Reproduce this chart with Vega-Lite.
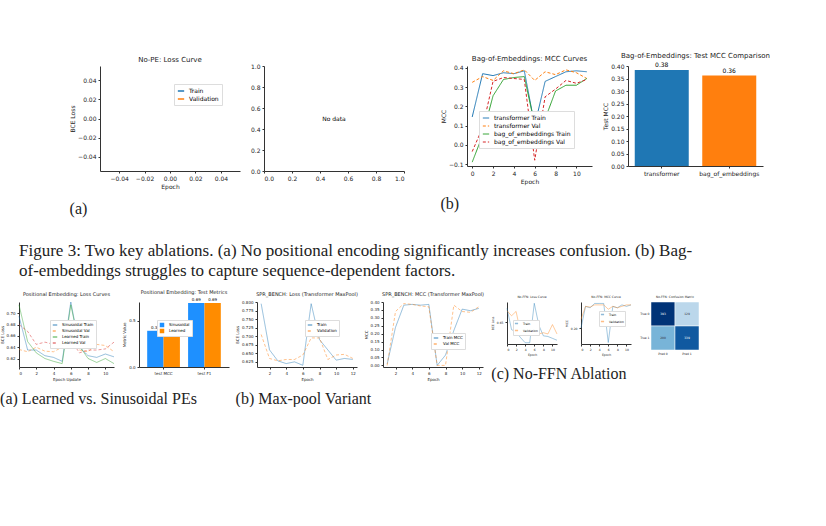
{
"$schema": "https://vega.github.io/schema/vega-lite/v6.json",
"background": "white",
"padding": {"left": 0, "top": 52, "right": 0, "bottom": 0},
"resolve": {"scale": {"color": "independent", "strokeDash": "independent"}, "legend": {"color": "independent", "strokeDash": "independent"}},
"config": {
  "view": {"stroke": null},
  "font": "DejaVu Sans",
  "axis": {"grid": false, "domainColor": "#333", "tickColor": "#333", "labelFontSize": 6, "titleFontSize": 6, "titleFontWeight": "normal", "tickSize": 2, "labelColor": "#222", "titleColor": "#222", "titlePadding": 2},
  "title": {"fontSize": 7, "fontWeight": "normal", "color": "#222", "offset": 3},
  "legend": {"labelFontSize": 6, "symbolSize": 40, "padding": 3, "fillColor": "white", "strokeColor": "#ddd", "title": null, "rowPadding": 1},
  "concat": {"spacing": 10}
},
"datasets": {
  "mcc": [
    {"e":0,"s":"transformer Train","v":0.145},{"e":1,"s":"transformer Train","v":0.37},{"e":2,"s":"transformer Train","v":0.36},{"e":3,"s":"transformer Train","v":0.375},{"e":4,"s":"transformer Train","v":0.37},{"e":5,"s":"transformer Train","v":0.385},{"e":6,"s":"transformer Train","v":0.1},{"e":7,"s":"transformer Train","v":0.33},{"e":8,"s":"transformer Train","v":0.355},{"e":9,"s":"transformer Train","v":0.38},{"e":10,"s":"transformer Train","v":0.385},{"e":11,"s":"transformer Train","v":0.38},
    {"e":0,"s":"transformer Val","v":0.325},{"e":1,"s":"transformer Val","v":0.355},{"e":2,"s":"transformer Val","v":0.335},{"e":3,"s":"transformer Val","v":0.385},{"e":4,"s":"transformer Val","v":0.37},{"e":5,"s":"transformer Val","v":0.39},{"e":6,"s":"transformer Val","v":0.335},{"e":7,"s":"transformer Val","v":0.38},{"e":8,"s":"transformer Val","v":0.365},{"e":9,"s":"transformer Val","v":0.39},{"e":10,"s":"transformer Val","v":0.375},{"e":11,"s":"transformer Val","v":0.345},
    {"e":0,"s":"bag_of_embeddings Train","v":-0.09},{"e":1,"s":"bag_of_embeddings Train","v":0.05},{"e":2,"s":"bag_of_embeddings Train","v":0.255},{"e":3,"s":"bag_of_embeddings Train","v":0.34},{"e":4,"s":"bag_of_embeddings Train","v":0.35},{"e":5,"s":"bag_of_embeddings Train","v":0.355},{"e":6,"s":"bag_of_embeddings Train","v":0.105},{"e":7,"s":"bag_of_embeddings Train","v":0.135},{"e":8,"s":"bag_of_embeddings Train","v":0.28},{"e":9,"s":"bag_of_embeddings Train","v":0.31},{"e":10,"s":"bag_of_embeddings Train","v":0.31},{"e":11,"s":"bag_of_embeddings Train","v":0.345},
    {"e":0,"s":"bag_of_embeddings Val","v":-0.035},{"e":1,"s":"bag_of_embeddings Val","v":0.09},{"e":2,"s":"bag_of_embeddings Val","v":0.33},{"e":3,"s":"bag_of_embeddings Val","v":0.35},{"e":4,"s":"bag_of_embeddings Val","v":0.345},{"e":5,"s":"bag_of_embeddings Val","v":0.34},{"e":6,"s":"bag_of_embeddings Val","v":-0.08},{"e":7,"s":"bag_of_embeddings Val","v":0.25},{"e":8,"s":"bag_of_embeddings Val","v":0.29},{"e":9,"s":"bag_of_embeddings Val","v":0.335},{"e":10,"s":"bag_of_embeddings Val","v":0.32},{"e":11,"s":"bag_of_embeddings Val","v":0.34}
  ],
  "mccbar": [{"m":"transformer","v":0.384,"t":"0.38"},{"m":"bag_of_embeddings","v":0.362,"t":"0.36"}],
  "peloss": [
    {"e":0,"s":"Sinusoidal Train","v":0.695},{"e":1,"s":"Sinusoidal Train","v":0.635},{"e":2,"s":"Sinusoidal Train","v":0.635},{"e":3,"s":"Sinusoidal Train","v":0.625},{"e":4,"s":"Sinusoidal Train","v":0.622},{"e":5,"s":"Sinusoidal Train","v":0.615},{"e":6,"s":"Sinusoidal Train","v":0.72},{"e":7,"s":"Sinusoidal Train","v":0.64},{"e":8,"s":"Sinusoidal Train","v":0.625},{"e":9,"s":"Sinusoidal Train","v":0.622},{"e":10,"s":"Sinusoidal Train","v":0.628},{"e":11,"s":"Sinusoidal Train","v":0.623},
    {"e":0,"s":"Sinusoidal Val","v":0.636},{"e":1,"s":"Sinusoidal Val","v":0.632},{"e":2,"s":"Sinusoidal Val","v":0.64},{"e":3,"s":"Sinusoidal Val","v":0.633},{"e":4,"s":"Sinusoidal Val","v":0.632},{"e":5,"s":"Sinusoidal Val","v":0.64},{"e":6,"s":"Sinusoidal Val","v":0.668},{"e":7,"s":"Sinusoidal Val","v":0.635},{"e":8,"s":"Sinusoidal Val","v":0.632},{"e":9,"s":"Sinusoidal Val","v":0.645},{"e":10,"s":"Sinusoidal Val","v":0.643},{"e":11,"s":"Sinusoidal Val","v":0.632},
    {"e":0,"s":"Learned Train","v":0.715},{"e":1,"s":"Learned Train","v":0.65},{"e":2,"s":"Learned Train","v":0.63},{"e":3,"s":"Learned Train","v":0.62},{"e":4,"s":"Learned Train","v":0.615},{"e":5,"s":"Learned Train","v":0.611},{"e":6,"s":"Learned Train","v":0.715},{"e":7,"s":"Learned Train","v":0.642},{"e":8,"s":"Learned Train","v":0.62},{"e":9,"s":"Learned Train","v":0.613},{"e":10,"s":"Learned Train","v":0.62},{"e":11,"s":"Learned Train","v":0.611},
    {"e":0,"s":"Learned Val","v":0.68},{"e":1,"s":"Learned Val","v":0.668},{"e":2,"s":"Learned Val","v":0.645},{"e":3,"s":"Learned Val","v":0.649},{"e":4,"s":"Learned Val","v":0.645},{"e":5,"s":"Learned Val","v":0.64},{"e":6,"s":"Learned Val","v":0.653},{"e":7,"s":"Learned Val","v":0.63},{"e":8,"s":"Learned Val","v":0.635},{"e":9,"s":"Learned Val","v":0.635},{"e":10,"s":"Learned Val","v":0.637},{"e":11,"s":"Learned Val","v":0.649}
  ],
  "pebar": [{"k":"test MCC","s":"Sinusoidal","v":0.39,"t":"0.39"},{"k":"test MCC","s":"Learned","v":0.38,"t":"0.38"},{"k":"test F1","s":"Sinusoidal","v":0.69,"t":"0.69"},{"k":"test F1","s":"Learned","v":0.69,"t":"0.69"}],
  "mploss": [
    {"e":1,"s":"Train","v":0.795},{"e":2,"s":"Train","v":0.66},{"e":3,"s":"Train","v":0.628},{"e":4,"s":"Train","v":0.62},{"e":5,"s":"Train","v":0.625},{"e":6,"s":"Train","v":0.615},{"e":7,"s":"Train","v":0.795},{"e":8,"s":"Train","v":0.69},{"e":9,"s":"Train","v":0.66},{"e":10,"s":"Train","v":0.63},{"e":11,"s":"Train","v":0.635},{"e":12,"s":"Train","v":0.632},
    {"e":1,"s":"Validation","v":0.705},{"e":2,"s":"Validation","v":0.635},{"e":3,"s":"Validation","v":0.628},{"e":4,"s":"Validation","v":0.632},{"e":5,"s":"Validation","v":0.632},{"e":6,"s":"Validation","v":0.645},{"e":7,"s":"Validation","v":0.695},{"e":8,"s":"Validation","v":0.695},{"e":9,"s":"Validation","v":0.632},{"e":10,"s":"Validation","v":0.645},{"e":11,"s":"Validation","v":0.647},{"e":12,"s":"Validation","v":0.635}
  ],
  "mpmcc": [
    {"e":1,"s":"Train MCC","v":0.01},{"e":2,"s":"Train MCC","v":0.24},{"e":3,"s":"Train MCC","v":0.38},{"e":4,"s":"Train MCC","v":0.385},{"e":5,"s":"Train MCC","v":0.38},{"e":6,"s":"Train MCC","v":0.385},{"e":7,"s":"Train MCC","v":0.0},{"e":8,"s":"Train MCC","v":0.065},{"e":9,"s":"Train MCC","v":0.22},{"e":10,"s":"Train MCC","v":0.355},{"e":11,"s":"Train MCC","v":0.345},{"e":12,"s":"Train MCC","v":0.36},
    {"e":1,"s":"Val MCC","v":0.0},{"e":2,"s":"Val MCC","v":0.34},{"e":3,"s":"Val MCC","v":0.39},{"e":4,"s":"Val MCC","v":0.385},{"e":5,"s":"Val MCC","v":0.375},{"e":6,"s":"Val MCC","v":0.37},{"e":7,"s":"Val MCC","v":0.0},{"e":8,"s":"Val MCC","v":0.0},{"e":9,"s":"Val MCC","v":0.38},{"e":10,"s":"Val MCC","v":0.34},{"e":11,"s":"Val MCC","v":0.335},{"e":12,"s":"Val MCC","v":0.37}
  ],
  "ffnloss": [
    {"e":0,"s":"Train","v":0.672},{"e":1,"s":"Train","v":0.638},{"e":2,"s":"Train","v":0.634},{"e":3,"s":"Train","v":0.625},{"e":4,"s":"Train","v":0.617},{"e":5,"s":"Train","v":0.617},{"e":6,"s":"Train","v":0.68},{"e":7,"s":"Train","v":0.645},{"e":8,"s":"Train","v":0.628},{"e":9,"s":"Train","v":0.627},{"e":10,"s":"Train","v":0.624},{"e":11,"s":"Train","v":0.621},
    {"e":0,"s":"Validation","v":0.668},{"e":1,"s":"Validation","v":0.66},{"e":2,"s":"Validation","v":0.667},{"e":3,"s":"Validation","v":0.633},{"e":4,"s":"Validation","v":0.632},{"e":5,"s":"Validation","v":0.638},{"e":6,"s":"Validation","v":0.634},{"e":7,"s":"Validation","v":0.631},{"e":8,"s":"Validation","v":0.633},{"e":9,"s":"Validation","v":0.631},{"e":10,"s":"Validation","v":0.646},{"e":11,"s":"Validation","v":0.631}
  ],
  "ffnmcc": [
    {"e":0,"s":"Train","v":0.2},{"e":1,"s":"Train","v":0.35},{"e":2,"s":"Train","v":0.34},{"e":3,"s":"Train","v":0.37},{"e":4,"s":"Train","v":0.37},{"e":5,"s":"Train","v":0.37},{"e":6,"s":"Train","v":0.1},{"e":7,"s":"Train","v":0.35},{"e":8,"s":"Train","v":0.34},{"e":9,"s":"Train","v":0.36},{"e":10,"s":"Train","v":0.35},{"e":11,"s":"Train","v":0.36},
    {"e":0,"s":"Validation","v":0.26},{"e":1,"s":"Validation","v":0.35},{"e":2,"s":"Validation","v":0.345},{"e":3,"s":"Validation","v":0.36},{"e":4,"s":"Validation","v":0.36},{"e":5,"s":"Validation","v":0.36},{"e":6,"s":"Validation","v":0.33},{"e":7,"s":"Validation","v":0.35},{"e":8,"s":"Validation","v":0.34},{"e":9,"s":"Validation","v":0.35},{"e":10,"s":"Validation","v":0.36},{"e":11,"s":"Validation","v":0.36}
  ],
  "cm": [{"t":"True 0","p":"Pred 0","n":393},{"t":"True 0","p":"Pred 1","n":129},{"t":"True 1","p":"Pred 0","n":200},{"t":"True 1","p":"Pred 1","n":339}]
},
"vconcat": [
  {
    "title": {"text": ["Figure 3: Two key ablations. (a) No positional encoding significantly increases confusion. (b) Bag-", "of-embeddings struggles to capture sequence-dependent factors."], "orient": "bottom", "anchor": "start", "font": "Liberation Serif", "fontSize": 17, "offset": 26, "lineHeight": 20},
    "resolve": {"scale": {"color": "independent", "strokeDash": "independent"}, "legend": {"color": "independent", "strokeDash": "independent"}},
    "hconcat": [
      {"data": {"values": []}, "mark": "text", "width": 40, "height": 10},
      {
        "title": {"text": "(a)", "orient": "bottom", "font": "Liberation Serif", "fontSize": 16, "offset": 12},
        "resolve": {"scale": {"color": "independent"}, "legend": {"color": "independent"}},
        "hconcat": [
          {
            "title": "No-PE: Loss Curve", "width": 140, "height": 105,
            "data": {"values": []},
            "mark": {"type": "line"},
            "encoding": {
              "x": {"field": "e", "type": "quantitative", "title": "Epoch", "scale": {"domain": [-0.055, 0.055]}, "axis": {"values": [-0.04, -0.02, 0, 0.02, 0.04], "format": ".2f"}},
              "y": {"field": "v", "type": "quantitative", "title": "BCE Loss", "scale": {"domain": [-0.055, 0.055]}, "axis": {"values": [-0.04, -0.02, 0, 0.02, 0.04], "format": ".2f"}},
              "color": {"field": "s", "type": "nominal", "scale": {"domain": ["Train", "Validation"], "range": ["#1f77b4", "#ff7f0e"]}, "legend": {"orient": "top-right", "symbolType": "stroke"}}
            }
          },
          {
            "width": 140, "height": 105,
            "data": {"values": [{"x": 0.5, "y": 0.5, "t": "No data"}]},
            "mark": {"type": "text", "fontSize": 6},
            "encoding": {
              "x": {"field": "x", "type": "quantitative", "title": null, "scale": {"domain": [0, 1]}, "axis": {"format": ".1f", "tickCount": 5}},
              "y": {"field": "y", "type": "quantitative", "title": null, "scale": {"domain": [0, 1]}, "axis": {"format": ".1f", "tickCount": 5}},
              "text": {"field": "t"}
            }
          }
        ]
      },
      {"data": {"values": []}, "mark": "text", "width": 15, "height": 10},
      {
        "title": {"text": "(b)", "orient": "bottom", "font": "Liberation Serif", "fontSize": 16, "offset": 12},
        "resolve": {"scale": {"color": "independent", "strokeDash": "independent"}, "legend": {"color": "independent", "strokeDash": "independent"}},
        "hconcat": [
          {
            "title": "Bag-of-Embeddings: MCC Curves", "width": 125, "height": 100,
            "data": {"name": "mcc"},
            "mark": {"type": "line", "strokeWidth": 1},
            "encoding": {
              "x": {"field": "e", "type": "quantitative", "title": "Epoch", "scale": {"domain": [-0.5, 11.5], "nice": false}, "axis": {"values": [0, 2, 4, 6, 8, 10]}},
              "y": {"field": "v", "type": "quantitative", "title": "MCC", "scale": {"domain": [-0.11, 0.41], "nice": false}, "axis": {"values": [-0.1, 0, 0.1, 0.2, 0.3, 0.4], "format": ".1f"}},
              "color": {"field": "s", "type": "nominal", "scale": {"domain": ["transformer Train", "transformer Val", "bag_of_embeddings Train", "bag_of_embeddings Val"], "range": ["#1f77b4", "#ff7f0e", "#2ca02c", "#d62728"]}, "legend": {"orient": "bottom-right", "symbolType": "stroke", "symbolStrokeWidth": 1}},
              "strokeDash": {"field": "s", "type": "nominal", "scale": {"domain": ["transformer Train", "transformer Val", "bag_of_embeddings Train", "bag_of_embeddings Val"], "range": [[1, 0], [3, 2], [1, 0], [3, 2]]}, "legend": null}
            }
          },
          {
            "title": "Bag-of-Embeddings: Test MCC Comparison", "width": 135, "height": 100,
            "data": {"name": "mccbar"},
            "encoding": {
              "x": {"field": "m", "type": "nominal", "sort": null, "title": null, "axis": {"labelAngle": 0}, "scale": {"paddingInner": 0.2, "paddingOuter": 0.1}},
              "y": {"field": "v", "type": "quantitative", "title": "Test MCC", "scale": {"domain": [0, 0.4]}, "axis": {"format": ".2f", "tickCount": 8}}
            },
            "layer": [
              {"mark": {"type": "bar"}, "encoding": {"color": {"field": "m", "type": "nominal", "sort": null, "scale": {"range": ["#1f77b4", "#ff7f0e"]}, "legend": null}}},
              {"mark": {"type": "text", "dy": -5, "fontSize": 6}, "encoding": {"text": {"field": "t"}}}
            ]
          }
        ]
      }
    ]
  },
  {
    "spacing": 6,
    "resolve": {"scale": {"color": "independent", "strokeDash": "independent"}, "legend": {"color": "independent", "strokeDash": "independent"}},
    "hconcat": [
      {
        "title": {"text": "(a) Learned vs. Sinusoidal PEs", "orient": "bottom", "font": "Liberation Serif", "fontSize": 16, "offset": 10},
        "resolve": {"scale": {"color": "independent", "strokeDash": "independent"}, "legend": {"color": "independent", "strokeDash": "independent"}},
        "spacing": 6,
        "hconcat": [
          {
            "title": {"text": "Positional Embedding: Loss Curves", "fontSize": 5},
            "width": 95, "height": 65,
            "data": {"name": "peloss"},
            "mark": {"type": "line", "strokeWidth": 0.8, "opacity": 0.6},
            "encoding": {
              "x": {"field": "e", "type": "quantitative", "title": "Epoch Update", "axis": {"values": [0, 2, 4, 6, 8, 10], "labelFontSize": 4, "titleFontSize": 4}},
              "y": {"field": "v", "type": "quantitative", "title": "BCE Loss", "scale": {"domain": [0.605, 0.72], "nice": false}, "axis": {"values": [0.62, 0.64, 0.66, 0.68, 0.7], "format": ".2f", "labelFontSize": 4, "titleFontSize": 4}},
              "color": {"field": "s", "type": "nominal", "scale": {"domain": ["Sinusoidal Train", "Sinusoidal Val", "Learned Train", "Learned Val"], "range": ["#1f77b4", "#ff7f0e", "#2ca02c", "#d62728"]}, "legend": {"orient": "top-right", "labelFontSize": 4, "symbolType": "stroke", "symbolSize": 20, "rowPadding": 0, "padding": 2}},
              "strokeDash": {"field": "s", "type": "nominal", "scale": {"domain": ["Sinusoidal Train", "Sinusoidal Val", "Learned Train", "Learned Val"], "range": [[1, 0], [3, 2], [1, 0], [3, 2]]}, "legend": null}
            }
          },
          {
            "title": {"text": "Positional Embedding: Test Metrics", "fontSize": 5},
            "width": 90, "height": 65,
            "data": {"name": "pebar"},
            "encoding": {
              "x": {"field": "k", "type": "nominal", "sort": null, "title": null, "axis": {"labelAngle": 0, "labelFontSize": 4}, "scale": {"paddingInner": 0.2}},
              "xOffset": {"field": "s", "type": "nominal", "sort": ["Sinusoidal", "Learned"]},
              "y": {"field": "v", "type": "quantitative", "title": "Metric Value", "scale": {"domain": [0, 0.7]}, "axis": {"format": ".1f", "labelFontSize": 4, "titleFontSize": 4}}
            },
            "layer": [
              {"mark": "bar", "encoding": {"color": {"field": "s", "type": "nominal", "sort": ["Sinusoidal", "Learned"], "scale": {"range": ["#1e90ff", "#ff8c00"]}, "legend": {"orient": "top-left", "labelFontSize": 4, "symbolType": "square", "symbolSize": 20, "rowPadding": 0, "padding": 2}}}},
              {"mark": {"type": "text", "dy": -3, "fontSize": 4}, "encoding": {"text": {"field": "t"}}}
            ]
          }
        ]
      },
      {
        "title": {"text": "(b) Max-pool Variant", "orient": "bottom", "font": "Liberation Serif", "fontSize": 16, "offset": 10},
        "resolve": {"scale": {"color": "independent", "strokeDash": "independent"}, "legend": {"color": "independent", "strokeDash": "independent"}},
        "spacing": 6,
        "hconcat": [
          {
            "title": {"text": "SPR_BENCH: Loss (Transformer MaxPool)", "fontSize": 5},
            "width": 100, "height": 65,
            "data": {"name": "mploss"},
            "mark": {"type": "line", "strokeWidth": 0.8, "opacity": 0.6},
            "encoding": {
              "x": {"field": "e", "type": "quantitative", "title": "Epoch", "scale": {"domain": [0.5, 12.5], "nice": false}, "axis": {"values": [2, 4, 6, 8, 10, 12], "labelFontSize": 4, "titleFontSize": 4}},
              "y": {"field": "v", "type": "quantitative", "title": "BCE Loss", "scale": {"domain": [0.61, 0.8], "nice": false}, "axis": {"values": [0.625, 0.65, 0.675, 0.7, 0.725, 0.75, 0.775, 0.8], "format": ".3f", "labelFontSize": 4, "titleFontSize": 4}},
              "color": {"field": "s", "type": "nominal", "scale": {"domain": ["Train", "Validation"], "range": ["#1f77b4", "#ff7f0e"]}, "legend": {"orient": "top-right", "labelFontSize": 4, "symbolType": "stroke", "symbolSize": 20, "rowPadding": 0, "padding": 2}},
              "strokeDash": {"field": "s", "type": "nominal", "scale": {"domain": ["Train", "Validation"], "range": [[1, 0], [3, 2]]}, "legend": null}
            }
          },
          {
            "title": {"text": "SPR_BENCH: MCC (Transformer MaxPool)", "fontSize": 5},
            "width": 100, "height": 65,
            "data": {"name": "mpmcc"},
            "mark": {"type": "line", "strokeWidth": 0.8, "opacity": 0.6},
            "encoding": {
              "x": {"field": "e", "type": "quantitative", "title": "Epoch", "scale": {"domain": [0.5, 12.5], "nice": false}, "axis": {"values": [2, 4, 6, 8, 10, 12], "labelFontSize": 4, "titleFontSize": 4}},
              "y": {"field": "v", "type": "quantitative", "title": "MCC", "scale": {"domain": [-0.01, 0.4], "nice": false}, "axis": {"values": [0, 0.05, 0.1, 0.15, 0.2, 0.25, 0.3, 0.35, 0.4], "format": ".2f", "labelFontSize": 4, "titleFontSize": 4}},
              "color": {"field": "s", "type": "nominal", "scale": {"domain": ["Train MCC", "Val MCC"], "range": ["#1f77b4", "#ff7f0e"]}, "legend": {"orient": "bottom-right", "labelFontSize": 4, "symbolType": "stroke", "symbolSize": 20, "rowPadding": 0, "padding": 2}},
              "strokeDash": {"field": "s", "type": "nominal", "scale": {"domain": ["Train MCC", "Val MCC"], "range": [[1, 0], [3, 2]]}, "legend": null}
            }
          }
        ]
      },
      {
        "title": {"text": "(c) No-FFN Ablation", "orient": "bottom", "font": "Liberation Serif", "fontSize": 16, "offset": 10},
        "resolve": {"scale": {"color": "independent"}, "legend": {"color": "independent"}},
        "spacing": 6,
        "hconcat": [
          {
            "title": {"text": "No-FFN: Loss Curve", "fontSize": 3},
            "width": 50, "height": 42,
            "data": {"name": "ffnloss"},
            "mark": {"type": "line", "strokeWidth": 0.8, "opacity": 0.5},
            "encoding": {
              "x": {"field": "e", "type": "quantitative", "title": "Epoch", "axis": {"values": [0, 2, 4, 6, 8, 10], "labelFontSize": 3, "titleFontSize": 3}},
              "y": {"field": "v", "type": "quantitative", "title": "BCE Loss", "scale": {"domain": [0.615, 0.682], "nice": false}, "axis": {"labelFontSize": 3, "titleFontSize": 3, "format": ".2f"}},
              "color": {"field": "s", "type": "nominal", "scale": {"domain": ["Train", "Validation"], "range": ["#1f77b4", "#ff7f0e"]}, "legend": {"orient": "top-right", "labelFontSize": 3, "symbolType": "stroke", "symbolSize": 10, "rowPadding": 0, "padding": 1}}
            }
          },
          {
            "title": {"text": "No-FFN: MCC Curve", "fontSize": 3},
            "width": 50, "height": 42,
            "data": {"name": "ffnmcc"},
            "mark": {"type": "line", "strokeWidth": 0.8, "opacity": 0.5},
            "encoding": {
              "x": {"field": "e", "type": "quantitative", "title": "Epoch", "axis": {"values": [0, 2, 4, 6, 8, 10], "labelFontSize": 3, "titleFontSize": 3}},
              "y": {"field": "v", "type": "quantitative", "title": "MCC", "scale": {"domain": [0.09, 0.38], "nice": false}, "axis": {"labelFontSize": 3, "titleFontSize": 3, "format": ".2f"}},
              "color": {"field": "s", "type": "nominal", "scale": {"domain": ["Train", "Validation"], "range": ["#1f77b4", "#ff7f0e"]}, "legend": {"orient": "bottom-left", "labelFontSize": 3, "symbolType": "stroke", "symbolSize": 10, "rowPadding": 0, "padding": 1}}
            }
          },
          {
            "title": {"text": "No-FFN: Confusion Matrix", "fontSize": 3},
            "width": 48, "height": 48,
            "data": {"name": "cm"},
            "encoding": {
              "x": {"field": "p", "type": "nominal", "title": null, "axis": {"labelAngle": 0, "labelFontSize": 3, "domain": false, "ticks": false}},
              "y": {"field": "t", "type": "nominal", "title": null, "axis": {"labelFontSize": 3, "domain": false, "ticks": false}}
            },
            "layer": [
              {"mark": {"type": "rect", "stroke": "white", "strokeWidth": 0.5}, "encoding": {"color": {"field": "n", "type": "quantitative", "scale": {"scheme": "blues", "domain": [100, 360]}, "legend": null}}},
              {"mark": {"type": "text", "fontSize": 3}, "encoding": {"text": {"field": "n"}, "color": {"condition": {"test": "datum.n > 300", "value": "white"}, "value": "#333"}}}
            ]
          }
        ]
      }
    ]
  }
]
}
